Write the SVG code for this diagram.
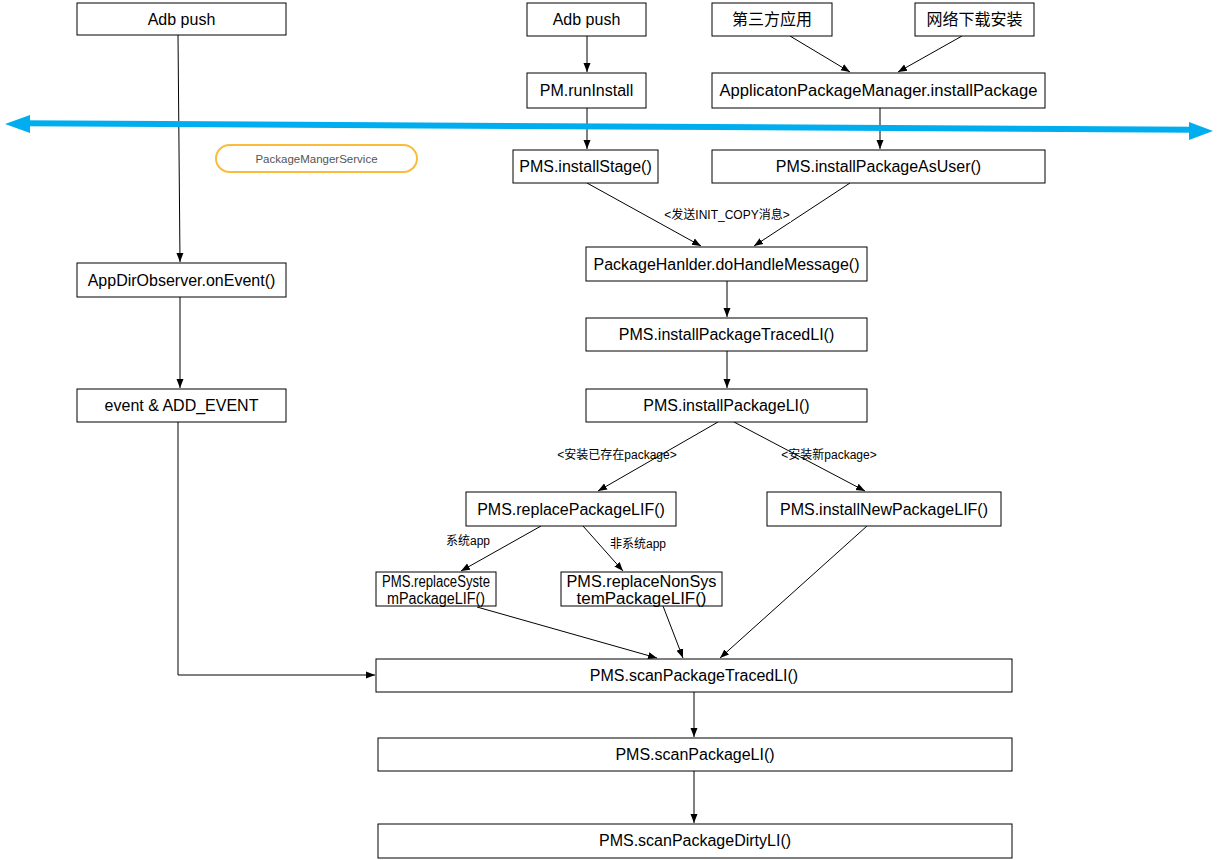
<svg xmlns="http://www.w3.org/2000/svg" width="1219" height="860" viewBox="0 0 1219 860">
<defs>
<marker id="ah" markerWidth="10" markerHeight="10" refX="9" refY="5" orient="auto" markerUnits="userSpaceOnUse">
<path d="M0,1.5 L9,5 L0,8.5 Z" fill="#000"/>
</marker>
<style>
.box{fill:#fff;stroke:#000;stroke-width:1}
.t{font-family:"Liberation Sans","Noto Sans CJK SC",sans-serif;font-size:16px;fill:#000;text-anchor:middle}
.lbl{font-family:"Liberation Sans","Noto Sans CJK SC",sans-serif;font-size:12px;fill:#000;text-anchor:middle}
.e{fill:none;stroke:#000;stroke-width:1;marker-end:url(#ah)}
</style>
</defs>
<rect width="1219" height="860" fill="#fff"/>
<g id="connectors">
<path class="e" d="M178,35 L180,262"/>
<path class="e" d="M180,297 L180,388"/>
<path class="e" d="M178,422 L178,675 L375,675"/>
<path class="e" d="M587,36 L587,72"/>
<path class="e" d="M587,108 L587,149"/>
<path class="e" d="M790,36 L850,72"/>
<path class="e" d="M962,36 L898,72"/>
<path class="e" d="M880,108 L880,149"/>
<path class="e" d="M587,183 L701,246"/>
<path class="e" d="M850,183 L754,246"/>
<path class="e" d="M727,281 L727,317"/>
<path class="e" d="M727,351 L727,388"/>
<path class="e" d="M718,422 L598,491"/>
<path class="e" d="M734,422 L865,491"/>
<path class="e" d="M541,526 L461,571"/>
<path class="e" d="M583,526 L623,571"/>
<path class="e" d="M477,607 L657,658"/>
<path class="e" d="M663,606 L683,658"/>
<path class="e" d="M867,526 L720,658"/>
<path class="e" d="M694,692 L694,737"/>
<path class="e" d="M694,771 L694,823"/>
<rect x="663" y="207" width="128" height="15" fill="#fff"/>
<text class="lbl" x="727" y="219">&lt;发送INIT_COPY消息&gt;</text>
<text class="lbl" x="617" y="459">&lt;安装已存在package&gt;</text>
<text class="lbl" x="829" y="459">&lt;安装新package&gt;</text>
<text class="lbl" x="468" y="545">系统app</text>
<text class="lbl" x="638" y="548">非系统app</text>
</g>
<g id="bluearrow">
<path d="M22,123.3 L1196,129.7" stroke="#00aeef" stroke-width="6" fill="none"/>
<path d="M5,124 L30,115 L30,133 Z" fill="#00aeef"/>
<path d="M1213,131 L1189,122 L1189,140 Z" fill="#00aeef"/>
</g>
<g id="pms"><rect x="216" y="145" width="201" height="27" rx="13.5" fill="#fff" stroke="#fbbc3c" stroke-width="2"/><text x="316.5" y="163" font-family="Liberation Sans,sans-serif" font-size="11.5" fill="#555" text-anchor="middle">PackageMangerService</text></g>
<g id="adb1"><rect class="box" x="77" y="3" width="209" height="32"/><text class="t" x="181.5" y="25">Adb push</text></g>
<g id="adb2"><rect class="box" x="527" y="3" width="119" height="33"/><text class="t" x="586.5" y="25">Adb push</text></g>
<g id="third"><rect class="box" x="712" y="3" width="120" height="33"/><text class="t" x="772" y="25">第三方应用</text></g>
<g id="net"><rect class="box" x="915" y="3" width="119" height="33"/><text class="t" x="974.5" y="25">网络下载安装</text></g>
<g id="pmrun"><rect class="box" x="527" y="73" width="119" height="35"/><text class="t" x="586.5" y="96">PM.runInstall</text></g>
<g id="apm"><rect class="box" x="712" y="73" width="333" height="35"/><text class="t" x="878.5" y="96" textLength="318" lengthAdjust="spacingAndGlyphs">ApplicatonPackageManager.installPackage</text></g>
<g id="installStage"><rect class="box" x="513" y="150" width="145" height="33"/><text class="t" x="585.5" y="172">PMS.installStage()</text></g>
<g id="asUser"><rect class="box" x="712" y="150" width="333" height="33"/><text class="t" x="878.5" y="172">PMS.installPackageAsUser()</text></g>
<g id="handler"><rect class="box" x="586" y="247" width="281" height="34"/><text class="t" x="726.5" y="270">PackageHanlder.doHandleMessage()</text></g>
<g id="observer"><rect class="box" x="77" y="263" width="209" height="34"/><text class="t" x="181.5" y="286">AppDirObserver.onEvent()</text></g>
<g id="traced"><rect class="box" x="586" y="318" width="281" height="33"/><text class="t" x="726.5" y="340">PMS.installPackageTracedLI()</text></g>
<g id="event"><rect class="box" x="77" y="389" width="209" height="33"/><text class="t" x="181.5" y="411">event &amp; ADD_EVENT</text></g>
<g id="installLI"><rect class="box" x="586" y="389" width="281" height="33"/><text class="t" x="726.5" y="411">PMS.installPackageLI()</text></g>
<g id="replace"><rect class="box" x="466" y="492" width="210" height="34"/><text class="t" x="571" y="515">PMS.replacePackageLIF()</text></g>
<g id="installNew"><rect class="box" x="767" y="492" width="234" height="34"/><text class="t" x="884" y="515">PMS.installNewPackageLIF()</text></g>
<g id="replaceSys"><rect class="box" x="376" y="572" width="120" height="34"/><text class="t" x="436" y="587" textLength="108" lengthAdjust="spacingAndGlyphs">PMS.replaceSyste</text><text class="t" x="436" y="604" textLength="98" lengthAdjust="spacingAndGlyphs">mPackageLIF()</text></g>
<g id="replaceNonSys"><rect class="box" x="561" y="572" width="161" height="34"/><text class="t" x="641.5" y="587" textLength="150" lengthAdjust="spacingAndGlyphs">PMS.replaceNonSys</text><text class="t" x="641.5" y="604" textLength="130" lengthAdjust="spacingAndGlyphs">temPackageLIF()</text></g>
<g id="scanTraced"><rect class="box" x="376" y="659" width="636" height="33"/><text class="t" x="694" y="681">PMS.scanPackageTracedLI()</text></g>
<g id="scanLI"><rect class="box" x="378" y="738" width="634" height="33"/><text class="t" x="695" y="760">PMS.scanPackageLI()</text></g>
<g id="scanDirty"><rect class="box" x="378" y="824" width="634" height="34"/><text class="t" x="695" y="846">PMS.scanPackageDirtyLI()</text></g>
</svg>
